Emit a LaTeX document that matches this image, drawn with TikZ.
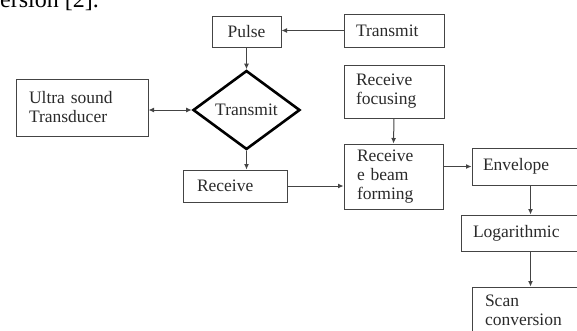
\documentclass[tikz,border=0pt]{standalone}
\usepackage{fontspec}
\setmainfont{Liberation Serif}
\usetikzlibrary{shapes.geometric,arrows.meta}
\definecolor{ink}{HTML}{2A2A2A}
\definecolor{edge}{HTML}{444444}
\tikzset{
  box/.style={draw=edge,line width=1pt,rectangle,inner sep=0pt,align=left,text=ink,
    font=\fontsize{17.5}{19}\selectfont},
  dia/.style={draw=black,line width=2.6pt,shape=diamond,inner sep=0pt,text=ink,
    font=\fontsize{17.5}{19}\selectfont},
  arr/.style={draw=edge,line width=1pt,-{Latex[length=5.5pt,width=5pt]}},
  darr/.style={draw=edge,line width=1pt,{Latex[length=5.5pt,width=5pt]}-{Latex[length=5.5pt,width=5pt]}}
}
\begin{document}
\begin{tikzpicture}[x=1pt,y=-1pt]
\useasboundingbox (0,0) rectangle (577,330);
\clip (0,0) rectangle (577,330);
\node[anchor=base west,inner sep=0pt,text=black,font=\fontsize{24}{26}\selectfont] (cap) at (0,7) {ersion [2].};
\node[box,minimum width=69pt,minimum height=31pt,align=center] (pulse) at (246.5,31.5) {Pulse};
\node[box,minimum width=100pt,minimum height=33pt,text width=76pt] (tx) at (394,30.5) {Transmit};
\node[box,minimum width=100pt,minimum height=53pt,text width=76pt] (foc) at (394,91.5) {Receive\\focusing};
\node[box,minimum width=132pt,minimum height=57pt,text width=106pt] (ultra) at (82,107.5) {Ultra sound\\Transducer};
\node[dia,minimum width=107pt,minimum height=79pt] (dia) at (246.5,110) {Transmit};
\node[box,minimum width=104pt,minimum height=32pt,text width=76pt] (rec) at (235,186) {Receive};
\node[box,minimum width=99pt,minimum height=65pt,text width=73pt] (bf) at (393.5,176.5) {Receive\\e beam\\forming};
\node[box,minimum width=128pt,minimum height=37pt,text width=106pt] (env) at (536,166.5) {Envelope};
\node[box,minimum width=139pt,minimum height=36pt,text width=115pt] (log) at (530.5,233) {Logarithmic};
\node[box,minimum width=128pt,minimum height=47pt,text width=102pt] (scan) at (536,310.5) {Scan\\conversion};
\draw[arr] (tx.west) -- (tx.west -| pulse.east);
\draw[arr] (pulse.south) -- (dia.north);
\draw[darr] (dia.west) -- (dia.west -| ultra.east);
\draw[arr] (dia.south) -- (dia.south |- rec.north);
\draw[arr] (rec.east) -- (rec.east -| bf.west);
\draw[arr] (foc.south) -- (bf.north);
\draw[arr] (bf.east |- env.west) -- (env.west);
\draw[arr] (log.north |- env.south) -- (log.north);
\draw[arr] (log.south) -- (log.south |- scan.north);
\end{tikzpicture}
\end{document}
